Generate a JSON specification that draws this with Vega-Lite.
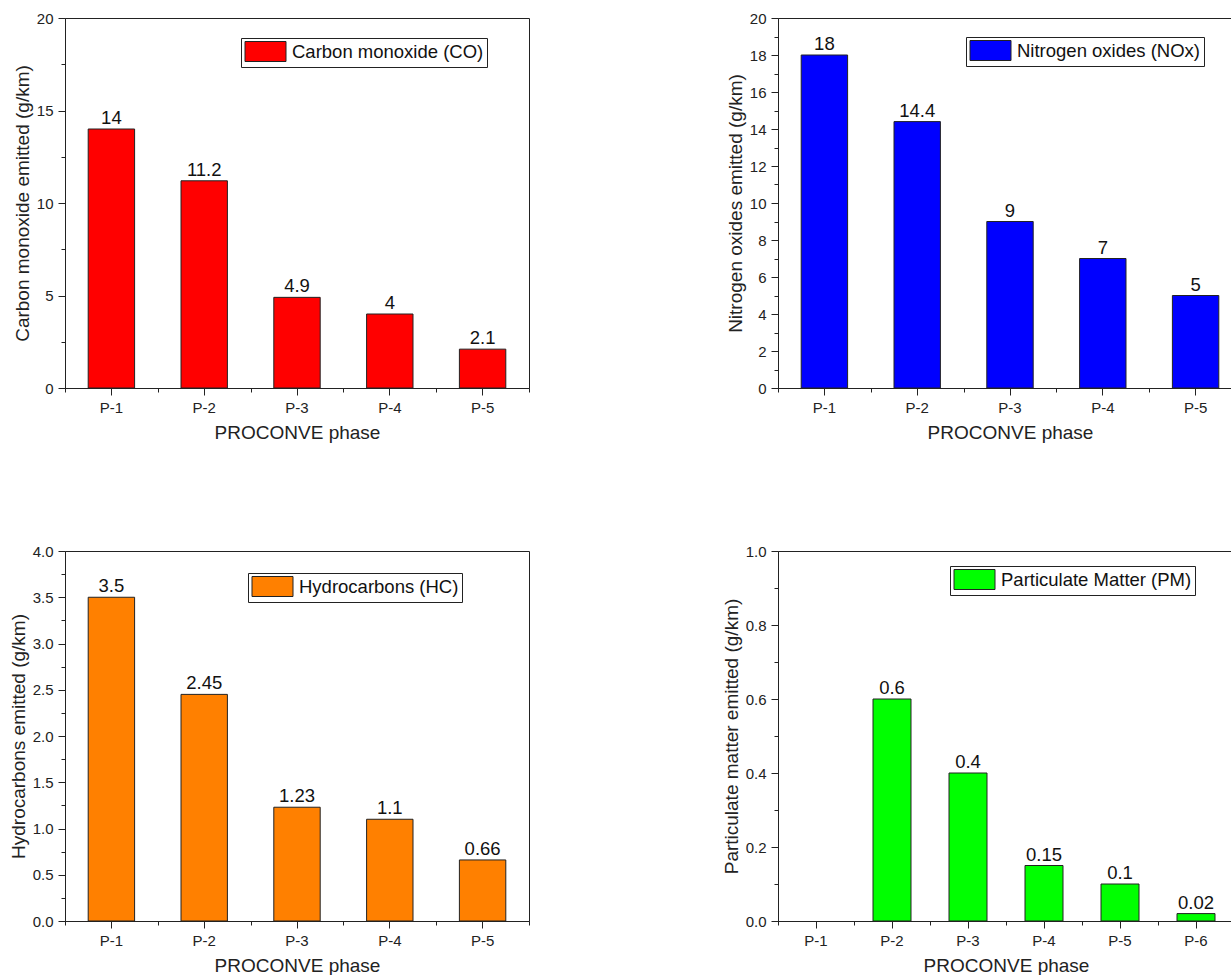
{
  "$schema": "https://vega.github.io/schema/vega-lite/v6.json",
  "padding": {"left": 8, "top": 10, "right": 0, "bottom": 0},
  "background": "white",
  "config": {
    "font": "Liberation Sans",
    "view": {"stroke": "#222", "strokeWidth": 1},
    "axis": {"grid": false, "domainColor": "#222", "tickColor": "#222", "labelColor": "#222", "titleColor": "#222", "titleFontWeight": "normal", "labelFont": "Liberation Sans", "titleFont": "Liberation Sans", "labelFontSize": 15, "titleFontSize": 19, "labelOverlap": false},
    "legend": {"orient": "none", "title": null, "labelFontSize": 18.5, "labelFont": "Liberation Sans", "labelColor": "#111", "symbolType": "M-2.05,-1H2.05V1H-2.05Z", "symbolSize": 400, "symbolStrokeColor": "#222", "symbolStrokeWidth": 1, "symbolOpacity": 1, "strokeColor": "#222", "fillColor": "white", "padding": 3, "symbolOffset": 11, "labelOffset": 16, "labelLimit": 400}
  },
  "columns": 2,
  "spacing": {"row": 100, "column": 191},
  "resolve": {"scale": {"color": "independent"}},
  "concat": [
    {
      "width": 464, "height": 370,
      "data": {"values": [
        {"phase": "P-1", "value": 14}, {"phase": "P-2", "value": 11.2}, {"phase": "P-3", "value": 4.9}, {"phase": "P-4", "value": 4}, {"phase": "P-5", "value": 2.1}
      ]},
      "layer": [
        {
          "mark": {"type": "bar", "width": {"band": 0.5}, "stroke": "#222", "strokeWidth": 1},
          "encoding": {
            "x": {"field": "phase", "type": "nominal", "sort": null, "scale": {"domain": ["P-1", "P-2", "P-3", "P-4", "P-5"], "paddingInner": 0, "paddingOuter": 0}, "axis": {"orient": "bottom", "title": "PROCONVE phase", "labelAngle": 0, "tickSize": 7, "labelPadding": 5, "titlePadding": 8}},
            "y": {"field": "value", "type": "quantitative", "scale": {"domain": [0, 20], "nice": false}, "axis": {"orient": "left", "title": "Carbon monoxide emitted (g/km)", "values": [0, 5, 10, 15, 20], "tickSize": 7, "labelPadding": 5, "titlePadding": 4}},
            "color": {"datum": "Carbon monoxide (CO)", "type": "nominal", "scale": {"range": ["#ff0000"]}, "legend": {"legendX": 176, "legendY": 20}}
          }
        },
        {
          "mark": {"type": "text", "baseline": "bottom", "dy": -1, "fontSize": 18.5, "color": "#111"},
          "encoding": {
            "x": {"field": "phase", "type": "nominal", "sort": null, "scale": {"domain": ["P-1", "P-2", "P-3", "P-4", "P-5"], "paddingInner": 0, "paddingOuter": 0}, "axis": {"orient": "bottom", "title": null, "labels": false, "domain": false, "tickBand": "extent", "tickSize": 4}},
            "y": {"field": "value", "type": "quantitative", "scale": {"domain": [0, 20], "nice": false}, "axis": {"orient": "left", "title": null, "labels": false, "domain": false, "values": [2.5, 7.5, 12.5, 17.5], "tickSize": 4}},
            "text": {"field": "value", "type": "nominal"}
          }
        }
      ],
      "resolve": {"axis": {"x": "independent", "y": "independent"}}
    },
    {
      "width": 464, "height": 370,
      "data": {"values": [
        {"phase": "P-1", "value": 18}, {"phase": "P-2", "value": 14.4}, {"phase": "P-3", "value": 9}, {"phase": "P-4", "value": 7}, {"phase": "P-5", "value": 5}
      ]},
      "layer": [
        {
          "mark": {"type": "bar", "width": {"band": 0.5}, "stroke": "#222", "strokeWidth": 1},
          "encoding": {
            "x": {"field": "phase", "type": "nominal", "sort": null, "scale": {"domain": ["P-1", "P-2", "P-3", "P-4", "P-5"], "paddingInner": 0, "paddingOuter": 0}, "axis": {"orient": "bottom", "title": "PROCONVE phase", "labelAngle": 0, "tickSize": 7, "labelPadding": 5, "titlePadding": 8}},
            "y": {"field": "value", "type": "quantitative", "scale": {"domain": [0, 20], "nice": false}, "axis": {"orient": "left", "title": "Nitrogen oxides emitted (g/km)", "values": [0, 2, 4, 6, 8, 10, 12, 14, 16, 18, 20], "tickSize": 7, "labelPadding": 5, "titlePadding": 4}},
            "color": {"datum": "Nitrogen oxides (NOx)", "type": "nominal", "scale": {"range": ["#0000ff"]}, "legend": {"legendX": 188, "legendY": 19}}
          }
        },
        {
          "mark": {"type": "text", "baseline": "bottom", "dy": -1, "fontSize": 18.5, "color": "#111"},
          "encoding": {
            "x": {"field": "phase", "type": "nominal", "sort": null, "scale": {"domain": ["P-1", "P-2", "P-3", "P-4", "P-5"], "paddingInner": 0, "paddingOuter": 0}, "axis": {"orient": "bottom", "title": null, "labels": false, "domain": false, "tickBand": "extent", "tickSize": 4}},
            "y": {"field": "value", "type": "quantitative", "scale": {"domain": [0, 20], "nice": false}, "axis": {"orient": "left", "title": null, "labels": false, "domain": false, "values": [1, 3, 5, 7, 9, 11, 13, 15, 17, 19], "tickSize": 4}},
            "text": {"field": "value", "type": "nominal"}
          }
        }
      ],
      "resolve": {"axis": {"x": "independent", "y": "independent"}}
    },
    {
      "width": 464, "height": 370,
      "data": {"values": [
        {"phase": "P-1", "value": 3.5}, {"phase": "P-2", "value": 2.45}, {"phase": "P-3", "value": 1.23}, {"phase": "P-4", "value": 1.1}, {"phase": "P-5", "value": 0.66}
      ]},
      "layer": [
        {
          "mark": {"type": "bar", "width": {"band": 0.5}, "stroke": "#222", "strokeWidth": 1},
          "encoding": {
            "x": {"field": "phase", "type": "nominal", "sort": null, "scale": {"domain": ["P-1", "P-2", "P-3", "P-4", "P-5"], "paddingInner": 0, "paddingOuter": 0}, "axis": {"orient": "bottom", "title": "PROCONVE phase", "labelAngle": 0, "tickSize": 7, "labelPadding": 5, "titlePadding": 8}},
            "y": {"field": "value", "type": "quantitative", "scale": {"domain": [0, 4], "nice": false}, "axis": {"orient": "left", "title": "Hydrocarbons emitted (g/km)", "values": [0, 0.5, 1, 1.5, 2, 2.5, 3, 3.5, 4], "format": ".1f", "tickSize": 7, "labelPadding": 5, "titlePadding": 4}},
            "color": {"datum": "Hydrocarbons (HC)", "type": "nominal", "scale": {"range": ["#ff8000"]}, "legend": {"legendX": 183, "legendY": 22}}
          }
        },
        {
          "mark": {"type": "text", "baseline": "bottom", "dy": -1, "fontSize": 18.5, "color": "#111"},
          "encoding": {
            "x": {"field": "phase", "type": "nominal", "sort": null, "scale": {"domain": ["P-1", "P-2", "P-3", "P-4", "P-5"], "paddingInner": 0, "paddingOuter": 0}, "axis": {"orient": "bottom", "title": null, "labels": false, "domain": false, "tickBand": "extent", "tickSize": 4}},
            "y": {"field": "value", "type": "quantitative", "scale": {"domain": [0, 4], "nice": false}, "axis": {"orient": "left", "title": null, "labels": false, "domain": false, "values": [0.25, 0.75, 1.25, 1.75, 2.25, 2.75, 3.25, 3.75], "tickSize": 4}},
            "text": {"field": "value", "type": "nominal"}
          }
        }
      ],
      "resolve": {"axis": {"x": "independent", "y": "independent"}}
    },
    {
      "width": 456, "height": 370,
      "data": {"values": [
        {"phase": "P-2", "value": 0.6}, {"phase": "P-3", "value": 0.4}, {"phase": "P-4", "value": 0.15}, {"phase": "P-5", "value": 0.1}, {"phase": "P-6", "value": 0.02}
      ]},
      "layer": [
        {
          "mark": {"type": "bar", "width": {"band": 0.5}, "stroke": "#222", "strokeWidth": 1},
          "encoding": {
            "x": {"field": "phase", "type": "nominal", "sort": null, "scale": {"domain": ["P-1", "P-2", "P-3", "P-4", "P-5", "P-6"], "paddingInner": 0, "paddingOuter": 0}, "axis": {"orient": "bottom", "title": "PROCONVE phase", "labelAngle": 0, "tickSize": 7, "labelPadding": 5, "titlePadding": 8}},
            "y": {"field": "value", "type": "quantitative", "scale": {"domain": [0, 1], "nice": false}, "axis": {"orient": "left", "title": "Particulate matter emitted (g/km)", "values": [0, 0.2, 0.4, 0.6, 0.8, 1], "format": ".1f", "tickSize": 7, "labelPadding": 5, "titlePadding": 4}},
            "color": {"datum": "Particulate Matter (PM)", "type": "nominal", "scale": {"range": ["#00ff00"]}, "legend": {"legendX": 172, "legendY": 15}}
          }
        },
        {
          "mark": {"type": "text", "baseline": "bottom", "dy": -1, "fontSize": 18.5, "color": "#111"},
          "encoding": {
            "x": {"field": "phase", "type": "nominal", "sort": null, "scale": {"domain": ["P-1", "P-2", "P-3", "P-4", "P-5", "P-6"], "paddingInner": 0, "paddingOuter": 0}, "axis": {"orient": "bottom", "title": null, "labels": false, "domain": false, "tickBand": "extent", "tickSize": 4}},
            "y": {"field": "value", "type": "quantitative", "scale": {"domain": [0, 1], "nice": false}, "axis": {"orient": "left", "title": null, "labels": false, "domain": false, "values": [0.1, 0.3, 0.5, 0.7, 0.9], "tickSize": 4}},
            "text": {"field": "value", "type": "nominal"}
          }
        }
      ],
      "resolve": {"axis": {"x": "independent", "y": "independent"}}
    }
  ]
}
